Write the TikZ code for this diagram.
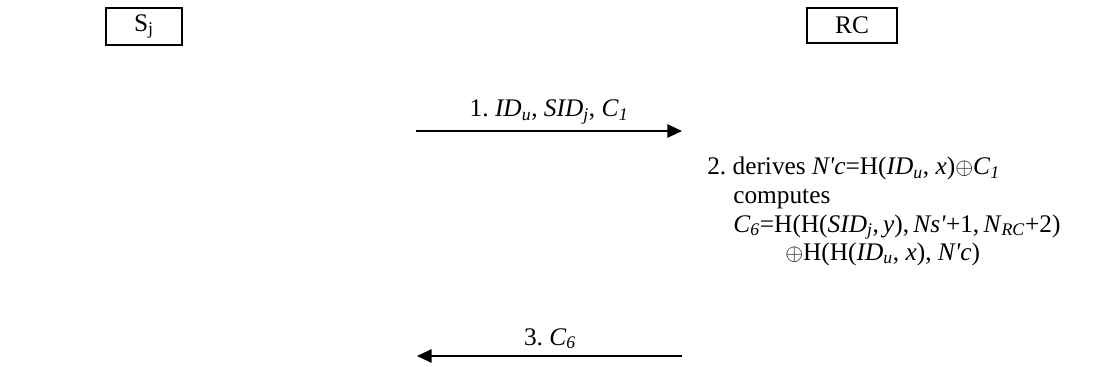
\documentclass[tikz,border=0pt]{standalone}
\usepackage{fontspec}
\setmainfont{Liberation Serif}
\usetikzlibrary{arrows.meta}
\newcommand{\isub}[1]{\textsubscript{\textit{#1}}}
\newcommand{\pr}{\textquotesingle}
\frenchspacing

\begin{document}
\begin{tikzpicture}[x=0.75pt, y=-0.75pt, >={Triangle[length=11pt, width=10pt]}, font=\fontsize{19}{21}\selectfont]
    \tikzstyle{party} = [rectangle, draw=black, line width=1.6pt, inner sep=0pt]
    \tikzstyle{msg} = [->, line width=1.5pt]
    \tikzstyle{lbl} = [anchor=base, inner sep=0pt]
    \tikzstyle{txt} = [anchor=base west, inner sep=0pt]

    \useasboundingbox (0,0) rectangle (1098,367);

    % Parties
    \node [party, minimum width=57pt, minimum height=27.75pt] (sj) at (144,26.5) {S\textsubscript{j}};
    \node [party, minimum width=67.5pt, minimum height=26.25pt] (rc) at (852,25.5) {RC};

    % Message 1
    \coordinate (m1s) at (416,131);
    \coordinate (m1e) at (682,131);
    \node [lbl] (l1) at (549,117) {1. \textit{ID}\isub{u}, \textit{SID}\isub{j}, \textit{C}\isub{1}};

    % RC computation
    \node [txt] (c1) at (707,175) {2. derives \textit{N\pr c}=H(\textit{ID}\isub{u}, \textit{x})$\oplus$\textit{C}\isub{1}};
    \node [txt] (c2) at (733,203) {computes};
    \node [txt] (c3) at (733,232) {\textit{C}\isub{6}=H(H(\textit{SID}\isub{j},\,\textit{y}),\,\textit{Ns\pr}+1,\,\textit{N}\isub{RC}+2)};
    \node [txt] (c4) at (785,260) {$\oplus$H(H(\textit{ID}\isub{u}, \textit{x}), \textit{N\pr c})};

    % Message 3
    \coordinate (m3s) at (682,356);
    \coordinate (m3e) at (417,356);
    \node [lbl] (l3) at (550,345) {3. \textit{C}\isub{6}};

    % Connections
    \draw [msg] (m1s) -- (m1e);
    \draw [msg] (m3s) -- (m3e);
\end{tikzpicture}
\end{document}
